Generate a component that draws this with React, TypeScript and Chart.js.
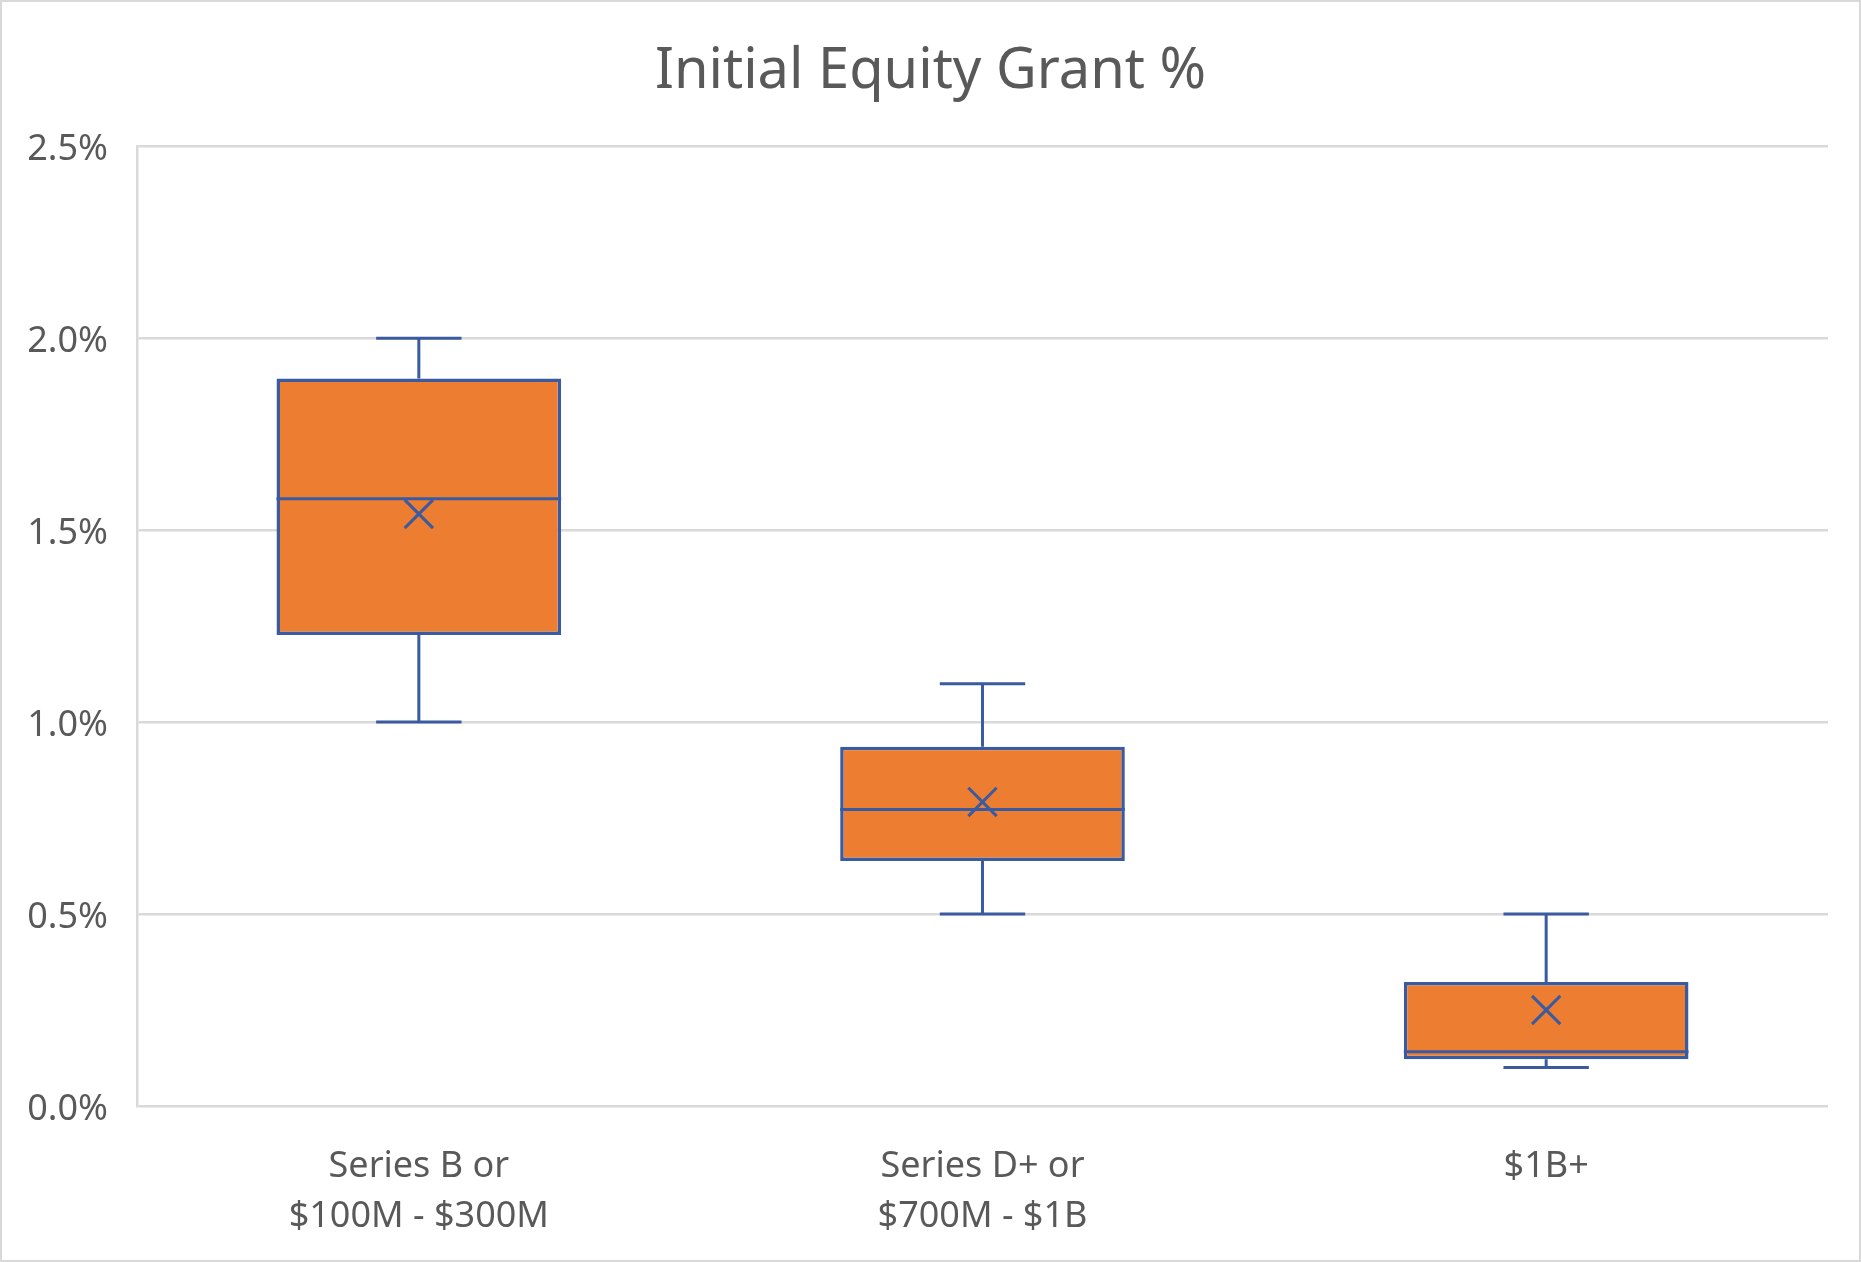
import { useEffect, useRef } from "react";
import { Chart, registerables } from "chart.js";

Chart.register(...registerables);

// ---- data (values in %) ----
const categories: string[][] = [
  ["Series B or", "$100M - $300M"],
  ["Series D+ or", "$700M - $1B"],
  ["$1B+"],
];
const minValues = [1.0, 0.5, 0.1];
const q1Values = [1.227, 0.638, 0.122];
const medianValues = [1.582, 0.772, 0.141];
const q3Values = [1.895, 0.936, 0.323];
const maxValues = [2.0, 1.1, 0.5];
const meanValues = [1.542, 0.792, 0.25];
const yMin = 0;
const yMax = 2.5;
const yStep = 0.5;
const titleText = "Initial Equity Grant %";

const FONT = "'Noto Sans', 'Open Sans', sans-serif";
const TEXT = "#595959";
const GRID = "#D9D9D9";
const LINE = "#3A5B9F";
const FILL = "#ED7D31";

const boxPlugin = {
  id: "boxWhiskers",
  beforeDraw(chart: any) {
    const ctx = chart.ctx;
    ctx.save();
    ctx.fillStyle = "#FFFFFF";
    ctx.fillRect(0, 0, chart.width, chart.height);
    ctx.strokeStyle = GRID;
    ctx.lineWidth = 2;
    ctx.strokeRect(1, 1, chart.width - 2, chart.height - 2);
    ctx.restore();
  },
  afterDatasetsDraw(chart: any) {
    const ctx = chart.ctx;
    const xs = chart.scales.x;
    const ys = chart.scales.y;
    const meta = chart.getDatasetMeta(0);
    ctx.save();
    ctx.strokeStyle = LINE;
    ctx.lineWidth = 3;
    ctx.lineCap = "butt";
    categories.forEach((_, i) => {
      const x = xs.getPixelForValue(i);
      const bw = meta.data[i].width;
      const half = bw / 2;
      const cap = bw * 0.15;
      const yMinP = ys.getPixelForValue(minValues[i]);
      const yQ1 = ys.getPixelForValue(q1Values[i]);
      const yMed = ys.getPixelForValue(medianValues[i]);
      const yQ3 = ys.getPixelForValue(q3Values[i]);
      const yMaxP = ys.getPixelForValue(maxValues[i]);
      ctx.beginPath();
      // upper whisker
      ctx.moveTo(x, yQ3);
      ctx.lineTo(x, yMaxP);
      ctx.moveTo(x - cap, yMaxP);
      ctx.lineTo(x + cap, yMaxP);
      // lower whisker
      ctx.moveTo(x, yQ1);
      ctx.lineTo(x, yMinP);
      ctx.moveTo(x - cap, yMinP);
      ctx.lineTo(x + cap, yMinP);
      // median
      ctx.moveTo(x - half, yMed);
      ctx.lineTo(x + half, yMed);
      ctx.stroke();
    });
    ctx.restore();
  },
};

export default function App() {
  const ref = useRef<HTMLCanvasElement | null>(null);
  useEffect(() => {
    if (!ref.current) return;
    const chart = new Chart(ref.current, {
      type: "bar",
      data: {
        labels: categories as any,
        datasets: [
          {
            type: "bar",
            label: "Box",
            data: q1Values.map((q, i) => [q, q3Values[i]]) as any,
            backgroundColor: FILL,
            borderColor: LINE,
            borderWidth: 3.5,
            borderSkipped: false,
            barPercentage: 0.505,
            categoryPercentage: 1,
            order: 2,
          },
          {
            type: "line",
            label: "Mean",
            data: meanValues,
            showLine: false,
            pointStyle: "crossRot",
            pointRadius: 20,
            pointHoverRadius: 20,
            pointBorderWidth: 3,
            pointBorderColor: LINE,
            pointBackgroundColor: LINE,
            borderColor: LINE,
            order: 1,
          } as any,
        ],
      },
      options: {
        responsive: false,
        animation: false,
        devicePixelRatio: 1,
        layout: { padding: { left: 0, right: 0, top: 0, bottom: 0 } },
        plugins: {
          legend: { display: false },
          tooltip: { enabled: false },
          title: {
            display: true,
            text: titleText,
            color: TEXT,
            font: { family: FONT, size: 56, weight: "normal" as any, lineHeight: 1.2 },
            padding: { top: 38, bottom: 41 },
          },
        },
        scales: {
          x: {
            type: "category",
            offset: true,
            grid: { display: false, drawTicks: false },
            border: { display: false },
            ticks: {
              color: TEXT,
              font: { family: FONT, size: 36, lineHeight: 1.39 },
              padding: 36,
              maxRotation: 0,
              autoSkip: false,
            },
            afterFit: (s: any) => {
              s.height = 156;
            },
          },
          y: {
            min: yMin,
            max: yMax,
            grid: { color: GRID, lineWidth: 2.5, drawTicks: false },
            border: { display: true, color: GRID, width: 2.5 },
            ticks: {
              stepSize: yStep,
              color: TEXT,
              font: { family: FONT, size: 36 },
              padding: 29,
              labelOffset: 4,
              callback: (v: any) => Number(v).toFixed(1) + "%",
            },
            afterFit: (s: any) => {
              s.width = 137;
            },
          },
          yRight: {
            type: "linear",
            position: "right",
            min: yMin,
            max: yMax,
            grid: { display: false, drawTicks: false },
            border: { display: false },
            ticks: { display: false },
            afterFit: (s: any) => {
              s.width = 33;
            },
          },
        },
      },
      plugins: [boxPlugin],
    });
    return () => chart.destroy();
  }, []);
  return (
    <div style={{ position: "fixed", left: 0, top: 0, width: 1861, height: 1262 }}>
      <canvas ref={ref} width={1861} height={1262} style={{ display: "block" }} />
    </div>
  );
}
